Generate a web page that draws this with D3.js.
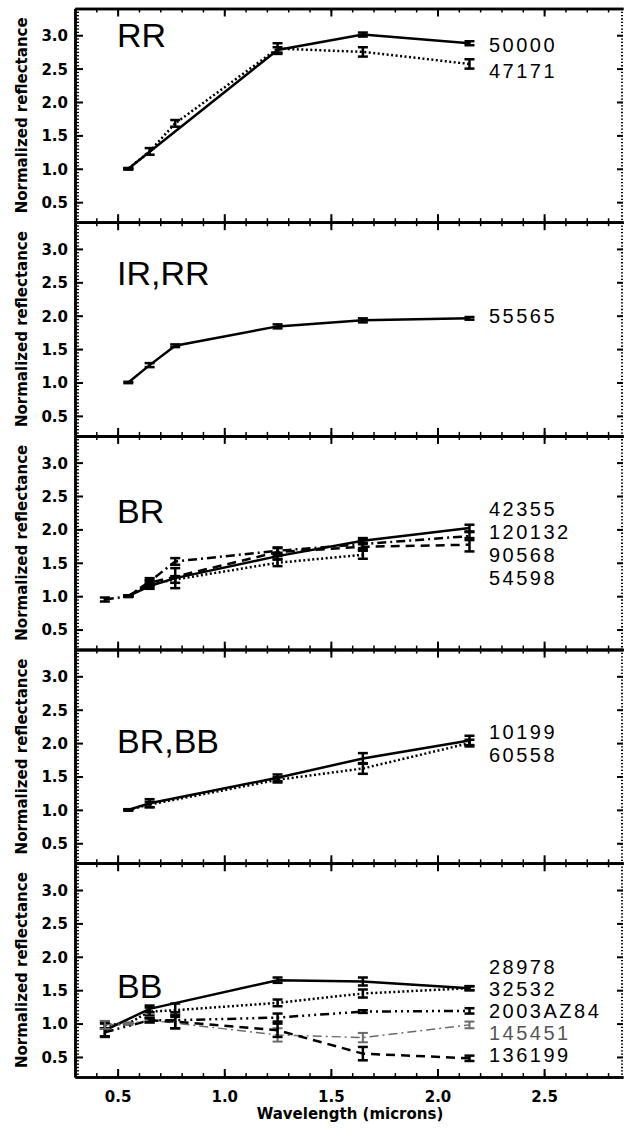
<!DOCTYPE html>
<html>
<head>
<meta charset="utf-8">
<script src="https://cdn.jsdelivr.net/npm/d3@7"></script>
<style>
	body { margin: 0; background: #fff; }
	svg { display: block; }
	.tick text { font-family: "DejaVu Sans", sans-serif; font-weight: bold; font-size: 15px; fill: #000; }
	.axis-title { font-family: "DejaVu Sans", sans-serif; font-weight: bold; font-size: 15px; }
	.panel-name { font-family: "Liberation Sans", Arial, sans-serif; font-size: 34px; }
	.series-name { font-family: "Liberation Sans", Arial, sans-serif; font-size: 20px; letter-spacing: 2.5px; }
</style>
</head>
<body>
<svg id="main-svg" width="624" height="1128"></svg>
<script>

// filter wavelengths (microns): B V R I J H K
var bands = [ 0.44, 0.55, 0.65, 0.77, 1.25, 1.65, 2.15 ];

var panelNames = [ 'RR', 'IR,RR', 'BR', 'BR,BB', 'BB' ];

var yTicks = [ 0.5, 1.0, 1.5, 2.0, 2.5, 3.0 ];
var xTicks = [ 0.5, 1.0, 1.5, 2.0, 2.5 ];

// RR
var s50000 = [ null, 1.00, null, null, 2.78, 3.01, 2.88 ];
var e50000 = [ 0, 0.01, 0, 0, 0.04, 0.03, 0.03 ];
var s47171 = [ null, 1.00, 1.26, 1.68, 2.80, 2.75, 2.57 ];
var e47171 = [ 0, 0.01, 0.05, 0.05, 0.08, 0.07, 0.07 ];

// IR,RR
var s55565 = [ null, 1.00, 1.26, 1.55, 1.84, 1.93, 1.96 ];
var e55565 = [ 0, 0.01, 0.03, 0.02, 0.03, 0.03, 0.02 ];

// BR
var s42355 = [ null, 1.00, 1.15, 1.27, 1.60, 1.83, 2.02 ];
var e42355 = [ 0, 0.01, 0.04, 0.15, 0.05, 0.04, 0.05 ];
var s120132 = [ null, 1.00, 1.18, 1.25, 1.50, 1.62, null ];
var e120132 = [ 0, 0.01, 0.04, 0.05, 0.05, 0.06, 0 ];
var s90568 = [ null, 1.00, 1.20, null, 1.66, 1.74, 1.77 ];
var e90568 = [ 0, 0.01, 0.04, 0, 0.06, 0.05, 0.10 ];
var s54598 = [ 0.95, 1.00, 1.22, 1.52, 1.68, 1.78, 1.90 ];
var e54598 = [ 0.03, 0.01, 0.05, 0.05, 0.05, 0.06, 0.06 ];

// BR,BB
var s10199 = [ null, 1.00, 1.10, null, 1.48, 1.77, 2.04 ];
var e10199 = [ 0, 0.01, 0.06, 0, 0.05, 0.08, 0.07 ];
var s60558 = [ null, 1.00, 1.08, null, 1.45, 1.62, 2.00 ];
var e60558 = [ 0, 0.01, 0.04, 0, 0.04, 0.08, 0.05 ];

// BB
var s28978 = [ 0.90, null, 1.22, null, 1.65, 1.63, 1.53 ];
var e28978 = [ 0.10, 0, 0.05, 0, 0.04, 0.06, 0.03 ];
var s32532 = [ 0.98, 1.00, 1.18, 1.20, 1.31, 1.45, 1.53 ];
var e32532 = [ 0.05, 0.01, 0.06, 0.10, 0.05, 0.06, 0.03 ];
var s2003AZ84 = [ 0.87, null, 1.05, 1.05, 1.09, 1.18, 1.19 ];
var e2003AZ84 = [ 0.06, 0, 0.03, 0.12, 0.06, 0.02, 0.04 ];
var s145451 = [ 0.98, 1.00, 1.05, null, 0.83, 0.79, 0.98 ];
var e145451 = [ 0.06, 0.01, 0.04, 0, 0.10, 0.07, 0.05 ];
var s136199 = [ null, null, 1.05, 1.03, 0.90, 0.55, 0.48 ];
var e136199 = [ 0, 0, 0.03, 0.10, 0.10, 0.10, 0.04 ];


var dashes = {
	solid: null,
	dotted: '2,2.5',
	dashed: '9,6',
	dashdot: '9,4,2,4',
	dash3dot: '9,4,2,4,2,4,2,4'
};

var panels = [
	{ series: [
		{ name: '50000', vals: s50000, err: e50000, style: 'solid' },
		{ name: '47171', vals: s47171, err: e47171, style: 'dotted' } ] },
	{ series: [
		{ name: '55565', vals: s55565, err: e55565, style: 'solid' } ] },
	{ series: [
		{ name: '42355', vals: s42355, err: e42355, style: 'solid' },
		{ name: '120132', vals: s120132, err: e120132, style: 'dotted' },
		{ name: '90568', vals: s90568, err: e90568, style: 'dashed' },
		{ name: '54598', vals: s54598, err: e54598, style: 'dashdot' } ] },
	{ series: [
		{ name: '10199', vals: s10199, err: e10199, style: 'solid' },
		{ name: '60558', vals: s60558, err: e60558, style: 'dotted' } ] },
	{ series: [
		{ name: '28978', vals: s28978, err: e28978, style: 'solid' },
		{ name: '32532', vals: s32532, err: e32532, style: 'dotted' },
		{ name: '2003AZ84', vals: s2003AZ84, err: e2003AZ84, style: 'dash3dot' },
		{ name: '145451', vals: s145451, err: e145451, style: 'dashdot', color: '#6a6a6a', width: 1.4 },
		{ name: '136199', vals: s136199, err: e136199, style: 'dashed' } ] }
];

// layout: baselines measured from each panel's top
var panelNameDy = [ 38, 63, 87, 103, 135 ];
var seriesNameDy = [ [ 43, 69 ], [ 101 ], [ 80, 103, 126, 149 ], [ 89, 112 ], [ 111, 133, 155, 177, 199 ] ];

var svg = d3.select( 'svg#main-svg' ),
	left = 75,
	right = 623,
	top0 = 8.5,
	panelH = 213.7;

svg.append( 'rect' ).attr( 'width', 624 ).attr( 'height', 1128 ).attr( 'fill', '#fff' );

var x = d3.scaleLinear().domain( [ 0.3, 2.87 ] ).range( [ left, right ] );

var minorY = d3.range( 0.25, 3.4, 0.05 ).map( function( v ) { return +v.toFixed( 2 ); } ),
	minorX = d3.range( 0.3, 2.87, 0.1 ).map( function( v ) { return +v.toFixed( 1 ); } );

function styleAxis( g, w ) {
	g.select( '.domain' ).attr( 'stroke', '#000' ).attr( 'stroke-width', w );
	g.selectAll( '.tick line' ).attr( 'stroke', '#000' ).attr( 'stroke-width', 2 );
}

panels.forEach( function( panel, p ) {

	var top = top0 + p * panelH,
		bottom = top + panelH,
		y = d3.scaleLinear().domain( [ 0.2, 3.4 ] ).range( [ bottom, top ] ),
		g = svg.append( 'g' ).attr( 'class', 'panel' );

	// left axis, minor then major
	g.append( 'g' ).attr( 'transform', 'translate(' + left + ',0)' )
		.call( d3.axisLeft( y ).tickValues( minorY ).tickSize( -4 ).tickSizeOuter( 0 ).tickFormat( '' ) )
		.call( styleAxis, 2.5 )
		.selectAll( '.tick line' ).attr( 'stroke-width', 1.3 );
	g.append( 'g' ).attr( 'transform', 'translate(' + left + ',0)' )
		.call( d3.axisLeft( y ).tickValues( yTicks ).tickSize( -8 ).tickSizeOuter( 0 ).tickPadding( 7 ).tickFormat( d3.format( '.1f' ) ) )
		.call( styleAxis, 2.5 )
		.selectAll( '.tick text' ).attr( 'dy', '0.36em' );

	// right axis
	g.append( 'g' ).attr( 'transform', 'translate(' + right + ',0)' )
		.call( d3.axisRight( y ).tickValues( minorY ).tickSize( -2 ).tickSizeOuter( 0 ).tickFormat( '' ) )
		.call( styleAxis, 0 )
		.selectAll( '.tick line' ).attr( 'stroke-width', 1.3 );
	g.append( 'g' ).attr( 'transform', 'translate(' + right + ',0)' )
		.call( d3.axisRight( y ).tickValues( yTicks ).tickSize( -6 ).tickSizeOuter( 0 ).tickFormat( '' ) )
		.call( styleAxis, 0 );

	// top and bottom axes
	[ [ d3.axisTop, top ], [ d3.axisBottom, bottom ] ].forEach( function( a ) {
		g.append( 'g' ).attr( 'transform', 'translate(0,' + a[1] + ')' )
			.call( a[0]( x ).tickValues( minorX ).tickSize( -4 ).tickSizeOuter( 0 ).tickFormat( '' ) )
			.call( styleAxis, 2.5 )
			.selectAll( '.tick line' ).attr( 'stroke-width', 1.5 );
		g.append( 'g' ).attr( 'transform', 'translate(0,' + a[1] + ')' )
			.call( a[0]( x ).tickValues( xTicks ).tickSize( -8 ).tickSizeOuter( 0 ).tickPadding( 14 )
				.tickFormat( a[0] === d3.axisBottom && p === panels.length - 1 ? d3.format( '.1f' ) : '' ) )
			.call( styleAxis, 2.5 );
	} );

	g.append( 'text' )
		.attr( 'class', 'axis-title' )
		.attr( 'transform', 'translate(27,' + ( ( top + bottom ) / 2 ) + ') rotate(-90)' )
		.attr( 'text-anchor', 'middle' )
		.text( 'Normalized reflectance' );

	g.append( 'text' )
		.attr( 'class', 'panel-name' )
		.attr( 'x', 117 )
		.attr( 'y', top + panelNameDy[ p ] )
		.text( panelNames[ p ] );

	panel.series.forEach( function( s, i ) {
		var color = s.color || '#000',
			width = s.width || 2.5,
			pts = bands.map( function( b, k ) {
				return { w: b, v: s.vals[ k ], e: s.err[ k ] };
			} ).filter( function( d ) { return d.v !== null; } );

		var line = d3.line()
			.x( function( d ) { return x( d.w ); } )
			.y( function( d ) { return y( d.v ); } );

		g.append( 'path' )
			.datum( pts )
			.attr( 'd', line )
			.attr( 'fill', 'none' )
			.attr( 'stroke', color )
			.attr( 'stroke-width', width )
			.attr( 'stroke-dasharray', dashes[ s.style ] );

		// error bars with caps
		var bars = g.append( 'g' ).selectAll( 'g' ).data( pts ).enter().append( 'g' )
			.attr( 'stroke', color )
			.attr( 'stroke-width', s.color ? 2 : 2.5 );
		bars.append( 'line' )
			.attr( 'x1', function( d ) { return x( d.w ); } )
			.attr( 'x2', function( d ) { return x( d.w ); } )
			.attr( 'y1', function( d ) { return y( d.v - d.e ); } )
			.attr( 'y2', function( d ) { return y( d.v + d.e ); } );
		[ -1, 1 ].forEach( function( sign ) {
			bars.append( 'line' )
				.attr( 'x1', function( d ) { return x( d.w ) - 5; } )
				.attr( 'x2', function( d ) { return x( d.w ) + 5; } )
				.attr( 'y1', function( d ) { return y( d.v + sign * d.e ); } )
				.attr( 'y2', function( d ) { return y( d.v + sign * d.e ); } );
		} );

		g.append( 'text' )
			.attr( 'class', 'series-name' )
			.attr( 'x', 489 )
			.attr( 'y', top + seriesNameDy[ p ][ i ] )
			.attr( 'fill', s.color ? '#555' : '#000' )
			.text( s.name );
	} );

} );

svg.append( 'text' )
	.attr( 'class', 'axis-title' )
	.attr( 'x', 350 )
	.attr( 'y', 1119 )
	.attr( 'text-anchor', 'middle' )
	.text( 'Wavelength (microns)' );

</script>
</body>
</html>
